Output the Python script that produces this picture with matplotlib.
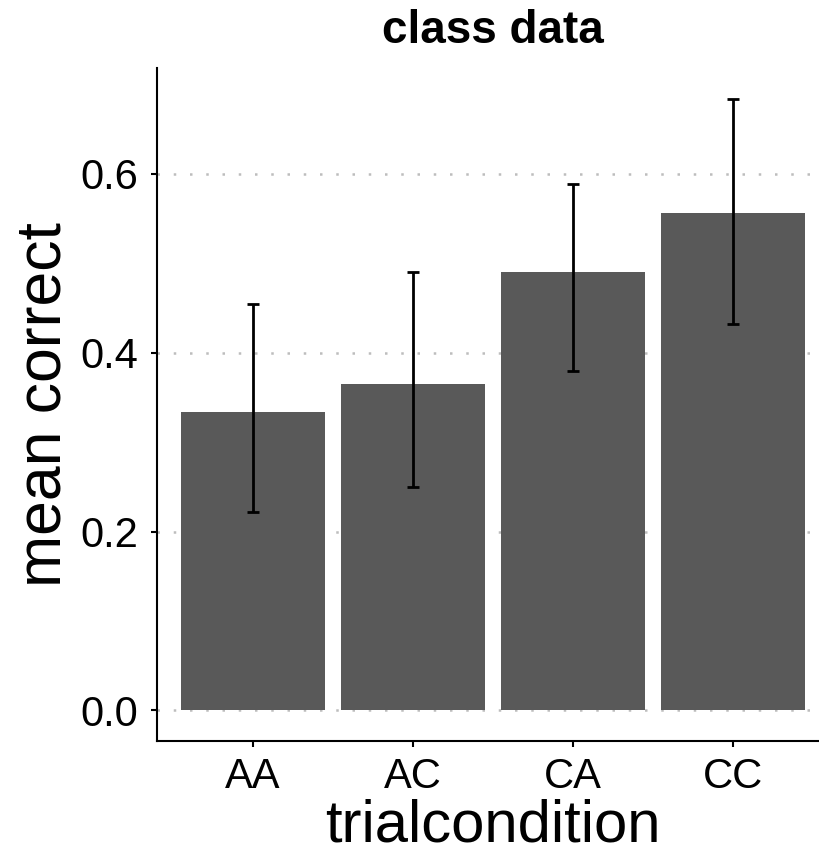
import matplotlib
matplotlib.use("Agg")
import matplotlib.pyplot as plt
import numpy as np

categories = ["AA", "AC", "CA", "CC"]
mean_correct = [0.3334, 0.3654, 0.490, 0.5558]
ci_low = [0.2214, 0.2501, 0.380, 0.4319]
ci_high = [0.4539, 0.490, 0.588, 0.684]
yticks = [0.0, 0.2, 0.4, 0.6]
ytick_labels = ["0.0", "0.2", "0.4", "0.6"]

plt.rcParams['font.family'] = ['Liberation Sans', 'DejaVu Sans']

W, H = 820, 857
fig = plt.figure(figsize=(W / 100, H / 100), dpi=100)
ax = fig.add_axes([157 / W, (H - 741) / H, (829 - 157) / W, (741 - 68) / H])

x = np.arange(1, len(categories) + 1)
mean = np.array(mean_correct)
lo = np.array(ci_low)
hi = np.array(ci_high)

for yt in yticks:
    ax.axhline(yt, color="#bdbdbd", linewidth=1.8, linestyle=(0, (1, 5.5)), zorder=0)

ax.bar(x, mean, width=0.9, color="#595959", zorder=2)
ax.errorbar(x, mean, yerr=[mean - lo, hi - mean], fmt="none", ecolor="black",
            elinewidth=2, capsize=4, capthick=2, zorder=3)

ax.set_xlim(0.4, 4.6)
ymax = hi.max()
ax.set_ylim(-0.05 * ymax, ymax * 1.05)
ax.set_xticks(x)
ax.set_xticklabels(categories)
ax.set_yticks(yticks)
ax.set_yticklabels(ytick_labels)

for s in ["top", "right"]:
    ax.spines[s].set_visible(False)
for s in ["left", "bottom"]:
    ax.spines[s].set_linewidth(1.5)
    ax.spines[s].set_color("black")

ax.tick_params(axis="x", length=4.5, width=1.5, labelsize=30, pad=7, colors="black")
ax.tick_params(axis="y", length=4.5, width=1.5, labelsize=30, pad=9, colors="black")

ax.set_xlabel("trialcondition", fontsize=43, labelpad=1)
ax.set_ylabel("mean correct", fontsize=45, labelpad=5)
ax.set_title("class data", fontsize=33, fontweight="bold", pad=18)

fig.savefig("out.png", dpi=100)
